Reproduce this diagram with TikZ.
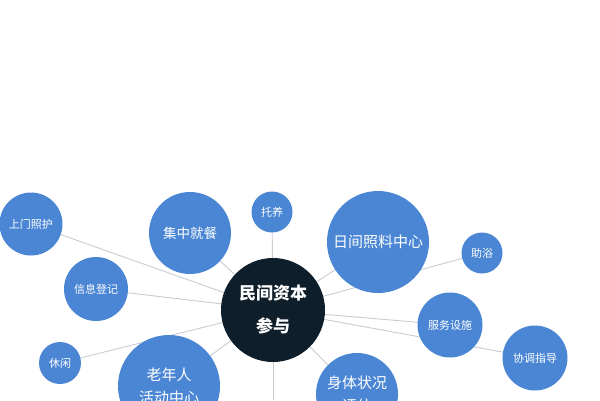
\documentclass[tikz,border=0pt]{standalone}
\usepackage{fontspec}
\setmainfont{Noto Sans CJK SC}
\usetikzlibrary{backgrounds}
\definecolor{bubble}{HTML}{4A86D4}
\definecolor{core}{HTML}{0E1F2B}
\definecolor{link}{HTML}{C9CBD3}
\tikzset{
  bub/.style={circle,fill=bubble,text=white,inner sep=0pt,align=center,minimum size=#1},
  lnk/.style={draw=link,line width=0.9pt},
}
\begin{document}
\begin{tikzpicture}[x=1pt,y=1pt,yscale=-1]
  \useasboundingbox (0,0) rectangle (600,400);
  \clip (0,0) rectangle (600,400);
  \node[bub=104pt,fill=core,font=\fontsize{17}{33}\selectfont\bfseries] (capital) at (273,310) {民间资本\\参与};
  \node[bub=63pt,font=\fontsize{11}{13}\selectfont] (doorcare) at (31,224) {上门照护};
  \node[bub=82pt,font=\fontsize{13.5}{16}\selectfont] (meals) at (190,233) {集中就餐};
  \node[bub=41pt,font=\fontsize{11}{13}\selectfont] (nursing) at (272,212) {托养};
  \node[bub=64pt,font=\fontsize{11}{13}\selectfont] (register) at (96,289) {信息登记};
  \node[bub=42pt,font=\fontsize{11}{13}\selectfont] (leisure) at (60,363) {休闲};
  \node[bub=102pt,font=\fontsize{15}{23}\selectfont] (activity) at (169,386) {老年人\\活动中心};
  \node[bub=102pt,font=\fontsize{15}{18}\selectfont] (daycare) at (378,242) {日间照料中心};
  \node[bub=41pt,font=\fontsize{11}{13}\selectfont] (bathing) at (482,253) {助浴};
  \node[bub=65pt,font=\fontsize{11}{13}\selectfont] (facility) at (450,325) {服务设施};
  \node[bub=65pt,font=\fontsize{11}{13}\selectfont] (guide) at (535,358) {协调指导};
  \node[bub=82pt,font=\fontsize{15}{23}\selectfont] (health) at (357,394) {身体状况\\评估};
  \coordinate (below) at (273,400);
  \begin{pgfonlayer}{background}
    \clip (0,0) rectangle (600,400);
    \foreach \n in {doorcare,meals,nursing,register,leisure,activity,daycare,bathing,facility,guide,health,below}
      \draw[lnk] (capital.center) -- (\n);
  \end{pgfonlayer}
\end{tikzpicture}
\end{document}
